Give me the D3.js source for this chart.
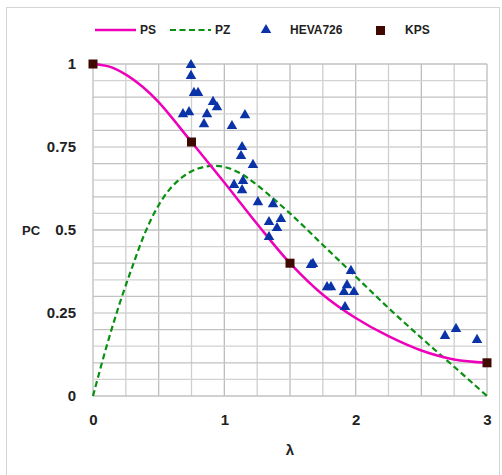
<!DOCTYPE html>
<html><head><meta charset="utf-8">
<script src="https://cdn.jsdelivr.net/npm/d3@7"></script>
<style>body{margin:0;background:#fff}svg{display:block}text{font-family:"Liberation Sans",Arial,sans-serif;font-weight:bold;fill:#222}</style>
</head><body><div id="c"></div>
<script>
const xTicks = [0, 1, 2, 3];
const yTicks = [0, 0.25, 0.5, 0.75, 1];
const psLambda = [0, 0.125, 0.25, 0.375, 0.5, 0.75, 1.0, 1.25, 1.5, 1.75, 2.0, 2.25, 2.5, 2.75, 3.0];
const psValue  = [1, 0.992, 0.968, 0.932, 0.885, 0.765, 0.643, 0.518, 0.40, 0.305, 0.235, 0.18, 0.137, 0.11, 0.10];
const pzLambda = [0, 0.1, 0.2, 0.3, 0.4, 0.5, 0.6, 0.7, 0.8, 0.9, 1.0, 1.125, 1.25, 1.5, 1.75, 2.0, 2.25, 2.5, 2.75, 3.0];
const pzValue  = [0, 0.145, 0.275, 0.39, 0.495, 0.575, 0.630, 0.665, 0.685, 0.693, 0.690, 0.670, 0.635, 0.55, 0.455, 0.36, 0.265, 0.175, 0.088, 0.0];
const hevaLambda = [0.746, 0.746, 0.769, 0.800, 0.914, 0.944, 0.685, 0.731, 0.868, 0.845, 1.058, 1.157, 1.135, 1.127, 1.218, 1.074, 1.142, 1.135, 1.256, 1.371, 1.340, 1.431, 1.401, 1.340, 1.660, 1.675, 1.782, 1.812, 1.934, 1.964, 1.911, 1.987, 1.919, 2.680, 2.764, 2.924];
const hevaValue  = [0.997, 0.964, 0.913, 0.913, 0.886, 0.870, 0.849, 0.855, 0.849, 0.819, 0.813, 0.846, 0.750, 0.723, 0.696, 0.636, 0.648, 0.620, 0.584, 0.578, 0.524, 0.533, 0.506, 0.479, 0.395, 0.398, 0.328, 0.328, 0.334, 0.377, 0.313, 0.313, 0.268, 0.181, 0.202, 0.169];
const kpsLambda = [0, 0.75, 1.5, 3];
const kpsValue  = [1, 0.765, 0.40, 0.10];

const W = 502, H = 475;
const svg = d3.select("#c").append("svg").attr("width", W).attr("height", H);
svg.append("rect").attr("x", 6.5).attr("y", 7.5).attr("width", 493).attr("height", 470)
  .attr("fill", "#fff").attr("stroke", "#d4d4d4");

const x = d3.scaleLinear().domain([0, 3]).range([93, 487]);
const y = d3.scaleLinear().domain([0, 1]).range([396, 64]);

// grid
const g = svg.append("g");
g.selectAll(".vg").data(d3.range(0, 13).map(i => i * 0.25)).join("line")
  .attr("x1", d => x(d)).attr("x2", d => x(d)).attr("y1", y(0)).attr("y2", y(1))
  .attr("stroke", (d, i) => i % 2 ? "#cfcfcf" : "#bdbdbd").attr("stroke-width", 1.3);
g.selectAll(".hg").data(d3.range(0, 21).map(i => i * 0.05)).join("line")
  .attr("y1", d => y(d)).attr("y2", d => y(d)).attr("x1", x(0)).attr("x2", x(3))
  .attr("stroke", (d, i) => i % 2 ? "#d2d2d2" : "#c2c2c2").attr("stroke-width", 1.3);

// axes labels
const xAxis = d3.axisBottom(x).tickValues(xTicks).tickFormat(d3.format("d")).tickSize(0).tickPadding(18);
const xa = svg.append("g").attr("transform", `translate(0,${y(0)})`).call(xAxis);
xa.select(".domain").remove();
xa.selectAll("text").attr("font-size", 15).attr("font-family", "'Liberation Sans',Arial,sans-serif").attr("font-weight", "bold").attr("fill", "#222");
const yAxis = d3.axisLeft(y).tickValues(yTicks).tickFormat(d => String(d)).tickSize(0).tickPadding(17);
const ya = svg.append("g").attr("transform", `translate(${x(0)},0)`).call(yAxis);
ya.select(".domain").remove();
ya.selectAll("text").attr("font-size", 15).attr("font-family", "'Liberation Sans',Arial,sans-serif").attr("font-weight", "bold").attr("fill", "#222");

svg.append("text").attr("x", 31).attr("y", y(0.5)).attr("dy", "0.35em").attr("text-anchor", "middle").attr("font-size", 13).text("PC");
svg.append("text").attr("x", 290).attr("y", 455).attr("text-anchor", "middle").attr("font-size", 15).text("λ");

// curves
const line = d3.line().x(d => x(d[0])).y(d => y(d[1])).curve(d3.curveCatmullRom.alpha(0.5));
svg.append("path").datum(pzLambda.map((l, i) => [l, pzValue[i]])).attr("d", line)
  .attr("fill", "none").attr("stroke", "#0a9010").attr("stroke-width", 2.2).attr("stroke-dasharray", "6,3.5");
svg.append("path").datum(psLambda.map((l, i) => [l, psValue[i]])).attr("d", line)
  .attr("fill", "none").attr("stroke", "#ee00bb").attr("stroke-width", 2.5);

const tri = d3.symbol().type(d3.symbolTriangle).size(48);
svg.selectAll(".tri").data(hevaLambda.map((l, i) => [l, hevaValue[i]])).join("path")
  .attr("d", tri).attr("transform", d => `translate(${x(d[0])},${y(d[1])})`).attr("fill", "#0a33a8");
svg.selectAll(".sq").data(kpsLambda.map((l, i) => [l, kpsValue[i]])).join("rect")
  .attr("x", d => x(d[0]) - 4.5).attr("y", d => y(d[1]) - 4.5).attr("width", 9).attr("height", 9)
  .attr("fill", "#3f0800");

// legend
const lg = svg.append("g");
lg.append("line").attr("x1", 95).attr("x2", 136).attr("y1", 30).attr("y2", 30).attr("stroke", "#ee00bb").attr("stroke-width", 2.5);
lg.append("text").attr("x", 140).attr("y", 30).attr("dy", "0.35em").attr("font-size", 12).text("PS");
lg.append("line").attr("x1", 170).attr("x2", 211).attr("y1", 30).attr("y2", 30).attr("stroke", "#0a9010").attr("stroke-width", 2.2).attr("stroke-dasharray", "6,3.5");
lg.append("text").attr("x", 215).attr("y", 30).attr("dy", "0.35em").attr("font-size", 12).text("PZ");
lg.append("path").attr("d", tri).attr("transform", "translate(266,30)").attr("fill", "#0a33a8");
lg.append("text").attr("x", 290).attr("y", 30).attr("dy", "0.35em").attr("font-size", 12).text("HEVA726");
lg.append("rect").attr("x", 376).attr("y", 26).attr("width", 9).attr("height", 9).attr("fill", "#3f0800");
lg.append("text").attr("x", 405).attr("y", 30).attr("dy", "0.35em").attr("font-size", 12).text("KPS");
</script></body></html>
